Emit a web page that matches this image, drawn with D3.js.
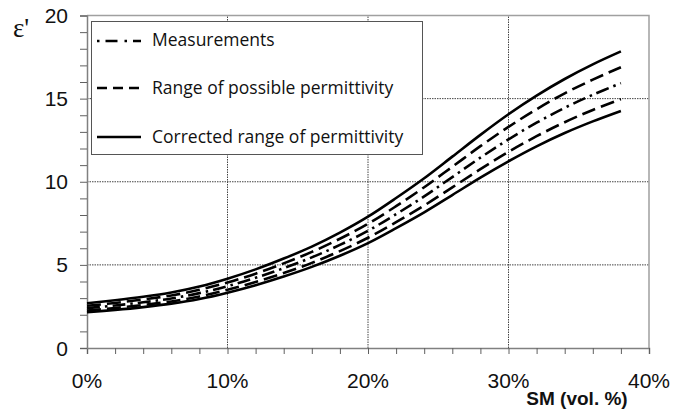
<!DOCTYPE html>
<html><head><meta charset="utf-8">
<script src="https://cdn.jsdelivr.net/npm/d3@7"></script>
<style>html,body{margin:0;padding:0;background:#fff;}svg{display:block;}</style>
</head><body>
<svg id="chart" width="694" height="414"></svg>
<script>
// soil moisture (vol. %)
const sm = [0,2,4,6,8,10,12,14,16,18,20,22,24,26,28,30,32,34,36,38];
// measured permittivity
const measurements = [2.40,2.56,2.75,2.98,3.30,3.72,4.22,4.80,5.45,6.20,7.05,8.05,9.12,10.28,11.45,12.55,13.55,14.45,15.23,15.93];
// range of possible permittivity (upper / lower)
const possibleUpper = [2.54,2.71,2.92,3.16,3.50,3.94,4.47,5.09,5.78,6.57,7.47,8.53,9.67,10.90,12.14,13.30,14.36,15.32,16.14,16.89];
const possibleLower = [2.26,2.41,2.59,2.80,3.10,3.50,3.97,4.51,5.12,5.83,6.63,7.57,8.57,9.66,10.76,11.80,12.74,13.58,14.32,14.97];
// corrected range of permittivity (upper / lower)
const correctedUpper = [2.69,2.87,3.08,3.34,3.70,4.17,4.73,5.38,6.10,6.94,7.90,9.02,10.21,11.51,12.82,14.06,15.18,16.18,17.06,17.84];
const correctedLower = [2.15,2.29,2.46,2.67,2.95,3.33,3.78,4.30,4.88,5.55,6.31,7.21,8.16,9.20,10.25,11.23,12.13,12.93,13.63,14.26];

const xTicks = [0,10,20,30,40];
const yTicks = [0,5,10,15,20];
const legendLabels = ["Measurements","Range of possible permittivity","Corrected range of permittivity"];

const svg = d3.select("#chart");
const x = d3.scaleLinear().domain([0,40]).range([87,649]);
const y = d3.scaleLinear().domain([0,20]).range([348,15.5]);

// grid
const g = svg.append("g");
g.selectAll(".hg").data([5,10,15]).join("line")
  .attr("x1",x(0)).attr("x2",x(40)).attr("y1",d=>y(d)).attr("y2",d=>y(d))
  .attr("stroke","#444").attr("stroke-width",1).attr("stroke-dasharray","1.5,1");
g.selectAll(".vg").data([10,20,30]).join("line")
  .attr("y1",y(0)).attr("y2",y(20)).attr("x1",d=>x(d)).attr("x2",d=>x(d))
  .attr("stroke","#444").attr("stroke-width",1).attr("stroke-dasharray","1.5,1");
// frame top/right
svg.append("path").attr("d",`M${x(0)},${y(20)}H${x(40)}V${y(0)}`)
  .attr("fill","none").attr("stroke","#a0a0a0").attr("stroke-width",1.5);

// axes
const xAxis = d3.axisBottom(x).tickValues(d3.range(0,41,2)).tickSize(6).tickFormat("");
const yAxis = d3.axisLeft(y).tickValues(d3.range(0,21,1)).tickSize(7).tickFormat("");
const gx = svg.append("g").attr("transform",`translate(0,${y(0)})`).call(xAxis);
const gy = svg.append("g").attr("transform",`translate(${x(0)},0)`).call(yAxis);
[gx,gy].forEach(a=>{
  a.select(".domain").attr("stroke","#808080").attr("stroke-width",1.5);
  a.selectAll(".tick line").attr("stroke","#606060").attr("stroke-width",1);
});

svg.selectAll(".xl").data(xTicks).join("text")
  .attr("x",d=>x(d)).attr("y",388).attr("text-anchor","middle")
  .attr("font-family","Liberation Sans, Arial, sans-serif").attr("font-size",21).attr("fill","#111")
  .text(d=>d+"%");
svg.selectAll(".yl").data(yTicks).join("text")
  .attr("x",68).attr("y",d=>y(d)+7.5).attr("text-anchor","end")
  .attr("font-family","Liberation Sans, Arial, sans-serif").attr("font-size",21).attr("fill","#111")
  .text(d=>d);
svg.append("text").attr("x",577).attr("y",405).attr("text-anchor","middle")
  .attr("font-family","Liberation Sans, Arial, sans-serif").attr("font-weight","bold").attr("font-size",19)
  .attr("fill","#111").text("SM (vol. %)");
svg.append("text").attr("x",13).attr("y",37)
  .attr("font-family","Liberation Serif, Times New Roman, serif").attr("font-size",27).attr("fill","#111")
  .text("ε'");

// curves
const line = d3.line().x(d=>x(d[0])).y(d=>y(d[1])).curve(d3.curveCatmullRom.alpha(0.5));
const series = [
  {v:correctedUpper, dash:null},
  {v:possibleUpper, dash:"14,6"},
  {v:measurements, dash:"13,5,2.5,5"},
  {v:possibleLower, dash:"14,6"},
  {v:correctedLower, dash:null}
];
svg.append("g").selectAll("path").data(series).join("path")
  .attr("d",s=>line(sm.map((t,i)=>[t,s.v[i]])))
  .attr("fill","none").attr("stroke","#000").attr("stroke-width",2.6)
  .attr("stroke-dasharray",s=>s.dash);

// legend
const lg = svg.append("g");
lg.append("rect").attr("x",91.5).attr("y",21.5).attr("width",331).attr("height",133)
  .attr("fill","#fff").attr("stroke","#555").attr("stroke-width",1);
const legendItems = [
  {label:legendLabels[0], ly:41, ty:46, dash:"2.5,6,12,7"},
  {label:legendLabels[1], ly:88, ty:94, dash:"10,6"},
  {label:legendLabels[2], ly:137, ty:143, dash:null}
];
legendItems.forEach(it=>{
  lg.append("line").attr("x1",97).attr("x2",141).attr("y1",it.ly).attr("y2",it.ly)
    .attr("stroke","#000").attr("stroke-width",2.4).attr("stroke-dasharray",it.dash);
  lg.append("text").attr("x",152).attr("y",it.ty)
    .attr("font-family","Open Sans, sans-serif").attr("font-size",17.5).attr("fill","#111")
    .text(it.label);
});
</script>
</body></html>
